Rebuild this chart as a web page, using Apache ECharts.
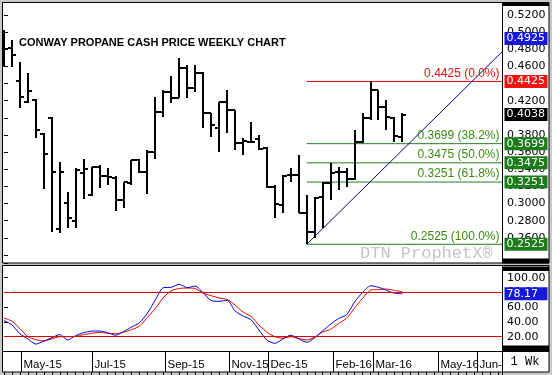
<!DOCTYPE html>
<html><head><meta charset="utf-8">
<script src="https://cdn.jsdelivr.net/npm/echarts@6.0.0/dist/echarts.min.js"></script>
<style>html,body{margin:0;padding:0;background:#c8c8c8;}#c{width:552px;height:375px;}</style>
</head><body><div id="c"></div>
<script>
// ---- data (weekly OHLC, Conway propane cash price) ----
const barOpen  = [0.4908,0.4811,0.4430,0.4188,0.4208,0.3811,0.3995,0.2700,0.3003,0.2796,0.3356,0.3100,0.3430,0.3320,0.3300,0.3041,0.3240,0.3508,0.3368,0.3600,0.4070,0.4305,0.4228,0.4578,0.4345,0.4520,0.4060,0.3880,0.4188,0.4090,0.3706,0.3722,0.3750,0.3650,0.3190,0.2983,0.3333,0.3333,0.2886,0.2671,0.3080,0.3236,0.3372,0.3368,0.3286,0.3722,0.3995,0.4325,0.4130,0.3995,0.3780];
const barHigh  = [0.5025,0.4908,0.4655,0.4520,0.4216,0.3823,0.4010,0.3488,0.3138,0.3410,0.3516,0.3430,0.3450,0.3410,0.3320,0.3255,0.3508,0.3516,0.3625,0.4247,0.4325,0.4488,0.4695,0.4617,0.4617,0.4538,0.4060,0.4190,0.4325,0.4090,0.3760,0.3955,0.3800,0.3663,0.3216,0.3333,0.3411,0.3567,0.3100,0.3080,0.3255,0.3470,0.3430,0.3410,0.3858,0.4053,0.4425,0.4330,0.4208,0.4013,0.4053];
const barLow   = [0.4593,0.4597,0.4115,0.4170,0.3761,0.3170,0.2668,0.2656,0.2715,0.2715,0.3053,0.3090,0.3178,0.3216,0.2913,0.2951,0.3216,0.3360,0.3108,0.3516,0.4010,0.4170,0.4228,0.4228,0.4305,0.3878,0.3780,0.3600,0.3823,0.3625,0.3567,0.3703,0.3625,0.3178,0.2828,0.2886,0.3255,0.2886,0.2525,0.2594,0.2711,0.3041,0.3158,0.3197,0.3275,0.3703,0.3975,0.3975,0.3858,0.3722,0.3722];
const barClose = [0.4803,0.4733,0.4247,0.4317,0.3858,0.3578,0.3368,0.3368,0.2830,0.3397,0.3409,0.3426,0.3320,0.3310,0.3041,0.3255,0.3508,0.3370,0.3605,0.4072,0.4305,0.4228,0.4578,0.4345,0.4520,0.4060,0.3917,0.4185,0.4091,0.3706,0.3733,0.3722,0.3633,0.3196,0.2995,0.3321,0.3333,0.2886,0.2671,0.3068,0.3236,0.3353,0.3372,0.3286,0.3722,0.3995,0.4325,0.4130,0.4013,0.3788,0.4038];
// stochastic %K (blue) and %D (red)
const stochK = [42,36,24,17,10,14,18.5,23,15.5,21.5,25.5,27.5,27.7,25.5,22,27,33,39,52,70,86.5,87,91,86.5,88.7,79.5,69,68,69.5,55,48,43,29,15.5,11,17,22,17,12.5,18.7,28,37,44.7,49.8,67,80,89,87,83,79,78.17];
const stochD = [45.3,41,31,20,16,14.3,17,20,20,20.5,22.8,24.6,25.8,24.6,24,26,29.5,34.4,46,58.5,73,82.3,85.4,86,85.2,79,75.6,72.5,70.5,63,53.5,47.5,36,26,20,18,20,17.5,15.6,19.5,26.5,30,38,45,59,72,83,84,84.6,82.8,81];
const stochBands = [80, 20];
const stochLast = 78.17;
// Fibonacci retracement from the Jan-16 low
const fibLevels = [0.4425, 0.3699, 0.3475, 0.3251, 0.2525];
const fibPercents = ['0.0%', '38.2%', '50.0%', '61.8%', '100.0%'];
const fibStartWeek = 38;
const trendLine = [[38, 0.2525], [62.5, 0.477]];
const priceMarkers = [0.4925, 0.4038];
// time axis (in week index units)
const weeksShown = 62.5;
const monthLabels = ['May-15','Jul-15','Sep-15','Nov-15','Dec-15','Feb-16','Mar-16','May-16','Jun-16'];
const monthStarts = [2.1, 11.08, 20.17, 28.28, 33.17, 41.25, 46.27, 54.5, 59.33];
const priceAxis = {min: 0.24, max: 0.52, step: 0.02};
const stochAxis = {min: 0, max: 120, step: 20};

// ---- chart ----
const chart = echarts.init(document.getElementById('c'), null, {renderer: 'canvas', width: 552, height: 375});
const AXF = 'DejaVu Sans';
const ARIAL = 'Liberation Sans';
const RED = '#e01010', GREEN = '#1f7f1f', GREENTXT = '#3a8a12', BLUE = '#1818dc';
const ohlc = barOpen.map((o, i) => [i, o, barHigh[i], barLow[i], barClose[i]]);

function boxPoint(coord, value, bg, digits) {
  return {
    coord: coord, value: value, symbol: 'rect', symbolSize: 1,
    itemStyle: {color: 'rgba(0,0,0,0)'},
    label: {show: true, position: 'right', distance: 2, color: '#fff', backgroundColor: bg,
      fontFamily: AXF, fontSize: 11, lineHeight: 13, padding: [0, 1, 0, 2], width: 40,
      formatter: () => value.toFixed(digits)}
  };
}
function textPoint(coord, text, color) {
  return {
    coord: coord, value: 0, symbol: 'rect', symbolSize: 1,
    itemStyle: {color: 'rgba(0,0,0,0)'},
    label: {show: true, position: 'left', distance: 2, offset: [0, -8], color: color,
      fontFamily: ARIAL, fontSize: 12, formatter: () => text}
  };
}

const series = [];
// OHLC bars
series.push({
  type: 'custom', xAxisIndex: 0, yAxisIndex: 0, silent: true, clip: false, z: 3,
  data: ohlc,
  renderItem: (params, api) => {
    const i = api.value(0);
    const po = api.coord([i, api.value(1)]), ph = api.coord([i, api.value(2)]);
    const pl = api.coord([i, api.value(3)]), pc = api.coord([i, api.value(4)]);
    const x = Math.round(ph[0]);
    const st = {stroke: '#000', lineWidth: 2};
    const yo = Math.round(po[1]), yc = Math.round(pc[1]);
    return {type: 'group', children: [
      {type: 'line', shape: {x1: x, y1: Math.round(ph[1]), x2: x, y2: Math.round(pl[1])}, style: st},
      {type: 'line', shape: {x1: x - 4, y1: yo, x2: x, y2: yo}, style: st},
      {type: 'line', shape: {x1: x, y1: yc, x2: x + 4, y2: yc}, style: st}
    ]};
  }
});
// Fibonacci lines
fibLevels.forEach((v, k) => {
  const col = k === 0 ? RED : GREEN;
  series.push({
    type: 'line', xAxisIndex: 0, yAxisIndex: 0, silent: true, showSymbol: false, z: 2,
    data: [[fibStartWeek, v], [weeksShown, v]],
    lineStyle: {color: k === 0 ? '#d40000' : GREEN, width: 1},
    markPoint: {silent: true, data: [
      textPoint([weeksShown, v], v.toFixed(4) + ' (' + fibPercents[k] + ')', k === 0 ? RED : GREENTXT),
      boxPoint([weeksShown, v], v, k === 0 ? '#f01414' : '#1c7c1c', 4)
    ]}
  });
});
// trend line from the low + other price markers
series.push({
  type: 'line', xAxisIndex: 0, yAxisIndex: 0, silent: true, showSymbol: false, z: 2,
  data: trendLine, lineStyle: {color: '#000080', width: 1},
  markPoint: {silent: true, data: [
    boxPoint([weeksShown, priceMarkers[0]], priceMarkers[0], BLUE, 4),
    boxPoint([weeksShown, priceMarkers[1]], priceMarkers[1], '#000', 4)
  ]}
});
// stochastics
series.push({
  type: 'line', xAxisIndex: 1, yAxisIndex: 1, silent: true, showSymbol: false, smooth: 0.25,
  data: stochD.map((v, i) => [i, v]), lineStyle: {color: '#e00000', width: 1},
  markLine: {silent: true, symbol: ['none', 'none'], label: {show: false},
    lineStyle: {color: '#d80000', width: 1, type: 'solid'},
    data: stochBands.map(v => ({yAxis: v}))}
});
series.push({
  type: 'line', xAxisIndex: 1, yAxisIndex: 1, silent: true, showSymbol: false, smooth: 0.25,
  data: stochK.map((v, i) => [i, v]), lineStyle: {color: '#0000c8', width: 1},
  markPoint: {silent: true, data: [boxPoint([weeksShown, stochLast], stochLast, BLUE, 2)]}
});
// month separators and labels
series.push({
  type: 'custom', xAxisIndex: 2, yAxisIndex: 2, silent: true, clip: true,
  data: monthStarts.map((m, k) => [m, k]),
  renderItem: (params, api) => {
    const x = Math.round(api.coord([api.value(0), 0])[0]) + 0.5;
    const cs = params.coordSys;
    return {type: 'group', children: [
      {type: 'line', shape: {x1: x, y1: cs.y, x2: x, y2: cs.y + cs.height}, style: {stroke: '#000', lineWidth: 1}},
      {type: 'text', x: x + 2, y: cs.y + 13.5, style: {text: monthLabels[api.value(1)], fill: '#000',
        font: '11.5px "Liberation Sans"', verticalAlign: 'middle', align: 'left'}}
    ]};
  }
});

const hiddenX = {type: 'value', min: 0, max: weeksShown, show: false};
function panel(x, y, w, h) {
  return [
    {type: 'rect', z: -10, shape: {x: x, y: y, width: w, height: h}, style: {fill: '#fff'}},
    {type: 'rect', z: 100, shape: {x: x, y: y, width: w, height: h}, style: {fill: 'none', stroke: '#000', lineWidth: 1}}
  ];
}
const graphics = [].concat(
  [{type: 'rect', z: 99, shape: {x: 0, y: 0, width: 2, height: 375}, style: {fill: '#c8c8c8'}}],
  panel(2.5, 2.5, 500, 260.5), panel(502.5, 2.5, 46.5, 260.5),
  panel(2.5, 265.5, 500, 86), panel(502.5, 265.5, 46.5, 86),
  panel(2.5, 351.5, 500, 20.5), panel(502.5, 351.5, 46.5, 20.5),
  [
    {type: 'rect', z: 101, shape: {x: 502.5, y: 2.5, width: 46.5, height: 3.5}, style: {fill: '#000'}},
    {type: 'rect', z: 101, shape: {x: 502.5, y: 258.5, width: 46.5, height: 5}, style: {fill: '#000'}},
    {type: 'rect', z: 101, shape: {x: 502.5, y: 266.5, width: 46.5, height: 4.5}, style: {fill: '#000'}},
    {type: 'rect', z: 101, shape: {x: 502.5, y: 345.5, width: 46.5, height: 6}, style: {fill: '#000'}},
    {type: 'text', z: 50, x: 19, y: 42.5, style: {text: 'CONWAY PROPANE CASH PRICE WEEKLY CHART', fill: '#000',
      font: 'bold 11px "Liberation Sans"', verticalAlign: 'middle'}},
    {type: 'text', z: 1, x: 360, y: 253, style: {text: 'DTN ProphetX\u00AE', fill: '#c4c4c4',
      font: '17px "Liberation Mono"', verticalAlign: 'middle'}},
    {type: 'text', z: 101, x: 525, y: 362, style: {text: '1 Wk', fill: '#000',
      font: '12px "Liberation Mono"', verticalAlign: 'middle', align: 'center'}}
  ]
);

chart.setOption({
  backgroundColor: '#c8c8c8',
  animation: false,
  grid: [
    {left: 4, right: 50, top: 15, height: 240},
    {left: 4, right: 50, top: 262.95, height: 88.5},
    {left: 4, right: 50, top: 351.5, height: 20.5}
  ],
  xAxis: [
    Object.assign({gridIndex: 0}, hiddenX),
    Object.assign({gridIndex: 1}, hiddenX),
    {gridIndex: 2, type: 'value', min: 0, max: weeksShown, interval: 1, position: 'top',
      axisLine: {show: false}, axisLabel: {show: false}, splitLine: {show: false},
      axisTick: {show: true, inside: true, length: 5, lineStyle: {color: '#000', width: 1}}}
  ],
  yAxis: [
    {gridIndex: 0, type: 'value', position: 'right', min: priceAxis.min, max: priceAxis.max, interval: priceAxis.step,
      axisLine: {show: false}, splitLine: {show: false},
      axisTick: {show: true, length: 4, lineStyle: {color: '#000'}},
      axisLabel: {margin: 5, color: '#000', fontFamily: AXF, fontSize: 11,
        formatter: v => (v < priceAxis.min + 1e-6 ? '' : v.toFixed(4))}},
    {gridIndex: 1, type: 'value', position: 'right', min: stochAxis.min, max: stochAxis.max, interval: stochAxis.step,
      axisLine: {show: false}, splitLine: {show: false},
      axisTick: {show: true, length: 4, lineStyle: {color: '#000'}},
      axisLabel: {margin: 5, color: '#000', fontFamily: AXF, fontSize: 11,
        formatter: v => (v >= 20 && v <= 100 ? v.toFixed(2) : '')}},
    {gridIndex: 2, type: 'value', min: 0, max: 1, show: false}
  ],
  graphic: {elements: graphics},
  series: series
});
</script></body></html>
